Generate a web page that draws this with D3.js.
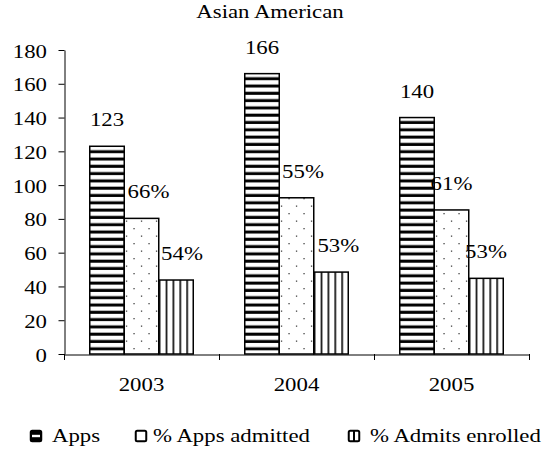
<!DOCTYPE html>
<html>
<head>
<meta charset="utf-8">
<script src="https://cdn.jsdelivr.net/npm/d3@7/dist/d3.min.js"></script>
<style>
  html, body { margin: 0; padding: 0; background: #fff; }
  svg { display: block; }
</style>
</head>
<body>
<script>
// ---- data ----
const title = "Asian American";
const years = ["2003", "2004", "2005"];
const seriesNames = ["Apps", "% Apps admitted", "% Admits enrolled"];
const apps = [123, 166, 140];
const admitted = [80.3, 92.5, 85.3];
const enrolled = [43.8, 48.5, 44.8];
const appsLabels = ["123", "166", "140"];
const admittedLabels = ["66%", "55%", "61%"];
const enrolledLabels = ["54%", "53%", "53%"];
const yTicks = [0, 20, 40, 60, 80, 100, 120, 140, 160, 180];

const W = 552, H = 455;
const SX = 1.2; // horizontal stretch of the reference text
const FONT = '"Liberation Serif"';
const margin = { left: 64, right: 23, top: 50, bottom: 101 };

function styleText(sel) {
  return sel.style("font-family", FONT).style("font-size", "19px").style("fill", "#000");
}

const svg = d3.select("body").append("svg").attr("width", W).attr("height", H);

// patterns
const defs = svg.append("defs");
const pH = defs.append("pattern").attr("id", "hstripe").attr("patternUnits", "userSpaceOnUse")
  .attr("width", 8).attr("height", 7.3).attr("y", 354);
pH.append("rect").attr("width", 8).attr("height", 7.3).attr("fill", "#fff");
pH.append("rect").attr("y", 0.6).attr("width", 8).attr("height", 3).attr("fill", "#000");

const pD = defs.append("pattern").attr("id", "dots").attr("patternUnits", "userSpaceOnUse")
  .attr("width", 15).attr("height", 15).attr("x", 0).attr("y", 3);
pD.append("rect").attr("width", 15).attr("height", 15).attr("fill", "#fff");
pD.append("rect").attr("x", 9.4).attr("y", 0).attr("width", 1.3).attr("height", 1.3).attr("fill", "#444");
pD.append("rect").attr("x", 1.9).attr("y", 7.5).attr("width", 1.3).attr("height", 1.3).attr("fill", "#444");

const pV = defs.append("pattern").attr("id", "vstripe").attr("patternUnits", "objectBoundingBox")
  .attr("width", 0.2).attr("height", 1);
pV.append("rect").attr("width", 40).attr("height", 400).attr("fill", "#fff");
pV.append("rect").attr("x", 0).attr("width", 1.6).attr("height", 400).attr("fill", "#000");

const fills = ["url(#hstripe)", "url(#dots)", "url(#vstripe)"];

// scales
const x0 = d3.scaleBand().domain(years).range([margin.left, W - margin.right]).padding(0);
const x1 = d3.scaleBand().domain(seriesNames)
  .range([25.75, x0.bandwidth() - 25.75]).padding(0);
const y = d3.scaleLinear().domain([0, 180]).range([H - margin.bottom, margin.top]);

// y axis
const yAxis = svg.append("g").attr("transform", `translate(${margin.left + 0.5},0)`)
  .call(d3.axisLeft(y).tickValues(yTicks).tickSize(6).tickSizeOuter(0).tickFormat(d3.format("d")));
yAxis.select(".domain").attr("stroke", "#000");
yAxis.selectAll(".tick line").attr("stroke", "#000");
styleText(yAxis.selectAll(".tick text"))
  .attr("x", -14.6).attr("dy", "0.37em")
  .attr("transform", `scale(${SX},1)`);

// bars
const rows = years.map((yr, i) => ({ year: yr, vals: [apps[i], admitted[i], enrolled[i]],
  labels: [appsLabels[i], admittedLabels[i], enrolledLabels[i]] }));
const labelDx = [[0, 7, 6], [0, 6.5, 7.3], [0, 0, 0]];

const groups = svg.append("g").selectAll("g").data(rows).join("g")
  .attr("transform", d => `translate(${x0(d.year)},0)`);

groups.selectAll("rect").data(d => d.vals.map((v, k) => ({ v, k, name: seriesNames[k] })))
  .join("rect")
  .attr("x", d => x1(d.name))
  .attr("y", d => y(d.v))
  .attr("width", x1.bandwidth())
  .attr("height", d => y(0) - y(d.v))
  .attr("fill", d => fills[d.k])
  .attr("stroke", "#000").attr("stroke-width", 1.5);

groups.each(function (d, i) {
  const g = d3.select(this);
  d.vals.forEach((v, k) => {
    const cx = x1(seriesNames[k]) + x1.bandwidth() / 2 + labelDx[i][k];
    styleText(g.append("text"))
      .attr("transform", `translate(${cx},${y(v) - 20}) scale(${SX},1)`)
      .attr("text-anchor", "middle")
      .text(d.labels[k]);
  });
});

// x axis
const xAxis = svg.append("g").attr("transform", `translate(0,${y(0) + 0.5})`)
  .call(d3.axisBottom(x0).tickSize(0).tickSizeOuter(0));
xAxis.select(".domain").attr("stroke", "#000");
styleText(xAxis.selectAll(".tick text"))
  .attr("y", 0).attr("dy", 0)
  .attr("transform", `translate(0,36) scale(${SX},1)`);
const bounds = years.map(d => x0(d)).concat([x0.range()[1]]);
svg.append("g").selectAll("line").data(bounds).join("line")
  .attr("x1", d => Math.round(d) + 0.5).attr("x2", d => Math.round(d) + 0.5)
  .attr("y1", y(0)).attr("y2", y(0) + 6)
  .attr("stroke", "#000");

// title
styleText(svg.append("text"))
  .attr("transform", `translate(270,18) scale(${SX},1)`)
  .attr("text-anchor", "middle")
  .text(title);

// legend
const legendX = [30, 135, 348];
const lg = svg.append("g").selectAll("g").data(seriesNames).join("g")
  .attr("transform", (d, i) => `translate(${legendX[i]},430)`);
lg.append("rect").attr("x", 0.75).attr("y", 0.75).attr("width", 10.5).attr("height", 10.5)
  .attr("rx", 1.5)
  .attr("fill", (d, i) => i === 0 ? "#000" : "#fff")
  .attr("stroke", "#000").attr("stroke-width", 2);
lg.filter((d, i) => i === 0).append("rect")
  .attr("x", 2).attr("y", 4.8).attr("width", 8).attr("height", 2.4).attr("fill", "#fff");
lg.filter((d, i) => i === 2).append("rect")
  .attr("x", 5).attr("y", 1).attr("width", 2).attr("height", 10).attr("fill", "#000");
styleText(lg.append("text"))
  .attr("transform", (d, i) => `translate(${i === 1 ? 18 : 22},11.5) scale(${SX},1)`)
  .text(d => d);
</script>
</body>
</html>
